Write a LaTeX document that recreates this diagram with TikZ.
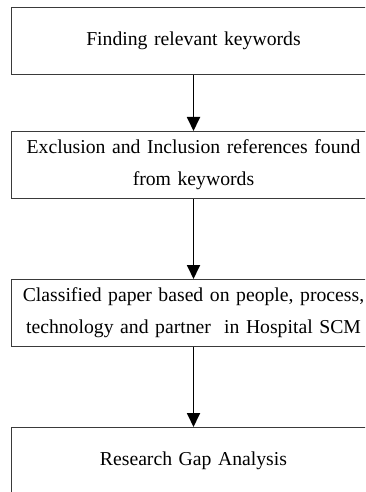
\documentclass[tikz,border=0pt]{standalone}
\usepackage{fontspec}
\setmainfont{Liberation Serif}
\usetikzlibrary{positioning, arrows.meta}
\definecolor{boxline}{HTML}{3a3a3a}

\begin{document}
\begin{tikzpicture}[x=1pt, y=1pt,
    stage/.style={draw=boxline, line width=1pt, minimum width=364pt, minimum height=67pt, text width=360pt, align=center, inner sep=2pt, font=\fontsize{19.7}{32}\selectfont},
    arr/.style={-{Triangle[length=14pt, width=13pt]}, line width=1.8pt, color=black},
]
\path[use as bounding box, clip] (0,0) rectangle (365,-492);
\node[stage, anchor=north west] (find) at (11,-7) {Finding relevant keywords};
\node[stage, below=56pt of find] (excl) {Exclusion and Inclusion references found\\from keywords};
\node[stage, below=80pt of excl] (class) {Classified paper based on people, process,\\technology and partner\ \ in Hospital SCM};
\node[stage, below=80pt of class] (gap) {Research Gap Analysis};
\draw[arr] (find)--(excl); \draw[arr] (excl)--(class); \draw[arr] (class)--(gap);
\end{tikzpicture}
\end{document}
